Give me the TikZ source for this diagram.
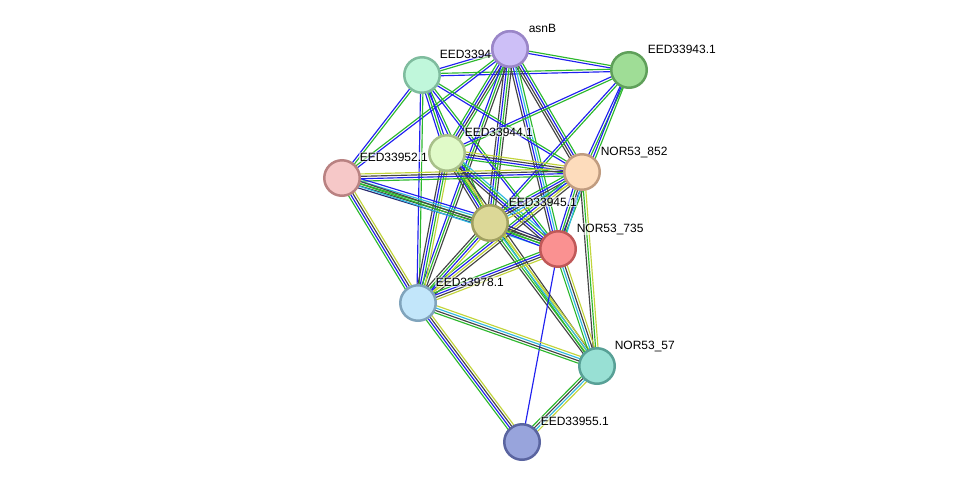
\documentclass[tikz,border=0pt]{standalone}
\usepackage{fontspec}
\setmainfont{Liberation Sans}
\usetikzlibrary{calc}
\pgfdeclarelayer{bg}
\pgfsetlayers{bg,main}
\definecolor{cg}{HTML}{2DB82D}
\definecolor{cb}{HTML}{2020F0}
\definecolor{ck}{HTML}{444444}
\definecolor{cc}{HTML}{30B8E0}
\definecolor{cy}{HTML}{C2D43A}
\definecolor{cn}{HTML}{2A2A70}
\definecolor{dA}{HTML}{9A86C8}\definecolor{fA}{HTML}{CDBFF7}
\definecolor{dB}{HTML}{7FBC9E}\definecolor{fB}{HTML}{C0F7DB}
\definecolor{dC}{HTML}{5FA05A}\definecolor{fC}{HTML}{9FDD96}
\definecolor{dD}{HTML}{A8C08A}\definecolor{fD}{HTML}{E0FAC8}
\definecolor{dE}{HTML}{B98282}\definecolor{fE}{HTML}{F6C8C8}
\definecolor{dF}{HTML}{C09C80}\definecolor{fF}{HTML}{FDDCBC}
\definecolor{dG}{HTML}{A0A060}\definecolor{fG}{HTML}{DCD897}
\definecolor{dH}{HTML}{C05858}\definecolor{fH}{HTML}{FA9191}
\definecolor{dI}{HTML}{80A4BC}\definecolor{fI}{HTML}{C2E6FA}
\definecolor{dJ}{HTML}{58A096}\definecolor{fJ}{HTML}{98E0D4}
\definecolor{dK}{HTML}{5A64A0}\definecolor{fK}{HTML}{98A4DC}
\tikzset{
  prot/.style={circle, minimum size=35.5pt, inner sep=0pt, line width=2.5pt, draw=d#1, fill=f#1},
  lab/.style={anchor=base west, font=\fontsize{12}{14}\selectfont, inner sep=0.6pt, fill=white, fill opacity=0.55, text opacity=1},
  edg/.style={line width=1.15pt}
}
\newcommand{\bund}[4]{%
  \foreach \cl [count=\ii] in {#4}{%
    \pgfmathsetmacro\off{(\ii-1-(#3-1)/2)*2.4}%
    \draw[edg,\cl] ($(#1)!\off pt!90:(#2)$) -- ($(#2)!\off pt!-90:(#1)$);
  }%
}
\begin{document}
\begin{tikzpicture}[x=1pt,y=-1pt]
\useasboundingbox (0,0) rectangle (976,488);
% nodes
\node[prot=A] (A) at (510,49) {};
\node[prot=B] (B) at (422,75) {};
\node[prot=C] (C) at (629,70) {};
\node[prot=D] (D) at (447,153) {};
\node[prot=E] (E) at (342,178) {};
\node[prot=F] (F) at (582,172) {};
\node[prot=G] (G) at (490,223) {};
\node[prot=H] (H) at (558,249) {};
\node[prot=I] (I) at (418,303) {};
\node[prot=J] (J) at (597,366) {};
\node[prot=K] (K) at (522,442) {};
% labels
\node[lab] (lB) at (439,58) {EED3394};
\node[prot=A] (A2) at (A) {};
\node[lab] (lA) at (528,32) {asnB};
\node[lab] (lC) at (647,53) {EED33943.1};
\node[lab] (lD) at (464,136) {EED33944.1};
\node[lab] (lE) at (359,161) {EED33952.1};
\node[lab] (lF) at (600,155) {NOR53\_852};
\node[lab] (lG) at (508,206) {EED33945.1};
\node[lab] (lH) at (576,232) {NOR53\_735};
\node[lab] (lI) at (435,286) {EED33978.1};
\node[lab] (lJ) at (614,349) {NOR53\_57};
\node[lab] (lK) at (540,425) {EED33955.1};
\begin{pgfonlayer}{bg}
\bund{A}{B}{2}{cb,cg}
\bund{A}{C}{2}{cb,cg}
\bund{B}{C}{2}{cb,cg}
\bund{A}{D}{4}{cg,cb,ck,cg}
\bund{A}{E}{2}{cg,cb}
\bund{A}{F}{4}{ck,ck,cb,cg}
\bund{A}{G}{4}{ck,cb,cg,ck}
\bund{A}{H}{4}{ck,cb,cc,cg}
\bund{A}{I}{3}{cb,cg,ck}
\bund{B}{D}{3}{cb,cg,cb}
\bund{B}{E}{2}{cb,cg}
\bund{B}{F}{2}{cb,cg}
\bund{B}{G}{2}{cb,cg}
\bund{B}{H}{2}{cb,cg}
\bund{B}{I}{2}{cb,cg}
\bund{C}{D}{2}{cb,cg}
\bund{C}{F}{2}{cb,cg}
\bund{C}{G}{2}{cb,cg}
\bund{C}{H}{2}{cb,cg}
\bund{D}{F}{4}{cg,cb,ck,cy}
\bund{D}{G}{4}{ck,cb,cg,cy}
\bund{D}{H}{4}{ck,cb,cg,cc}
\bund{D}{I}{4}{ck,cb,cg,cy}
\bund{D}{J}{3}{cg,cy,ck}
\bund{E}{F}{4}{cg,cb,ck,cy}
\bund{E}{G}{5}{cn,ck,cg,cc,cb}
\bund{E}{H}{3}{cc,cg,ck}
\bund{E}{I}{4}{cg,cb,ck,cy}
\bund{F}{G}{5}{cg,cb,ck,cc,cy}
\bund{F}{H}{4}{cb,cg,ck,cc}
\bund{F}{I}{4}{cg,cb,cy,ck}
\bund{F}{J}{3}{ck,cg,cy}
\bund{G}{H}{4}{cb,cg,ck,cn}
\bund{G}{I}{4}{ck,cg,cb,cy}
\bund{G}{J}{4}{ck,cg,cc,cy}
\bund{H}{I}{4}{cg,cb,ck,cy}
\bund{H}{J}{4}{cg,cc,ck,cy}
\bund{H}{K}{1}{cb}
\bund{I}{J}{4}{cg,ck,cc,cy}
\bund{I}{K}{4}{cg,cb,ck,cy}
\bund{J}{K}{4}{cg,ck,cc,cy}
\end{pgfonlayer}
\end{tikzpicture}
\end{document}
